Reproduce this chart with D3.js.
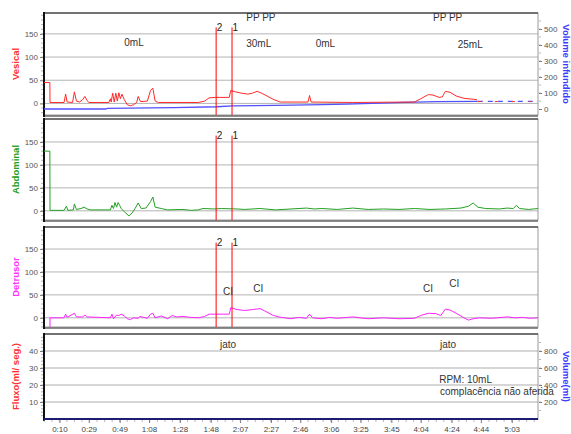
<!DOCTYPE html>
<html>
<head>
<meta charset="utf-8">
<script src="https://cdnjs.cloudflare.com/ajax/libs/d3/7.8.5/d3.min.js"></script>
<style>
body { margin: 0; background: #fff; }
text { font-family: "Liberation Sans", Arial, sans-serif; }
</style>
</head>
<body>
<div id="chart"></div>
<script>
// time axis (seconds)
var timeTicks = [10, 29, 49, 68, 88, 108, 127, 147, 166, 186, 205, 225, 244, 264, 283, 303];
var timeLabels = ["0:10", "0:29", "0:49", "1:08", "1:28", "1:48", "2:07", "2:27", "2:46", "3:06", "3:25", "3:45", "4:04", "4:24", "4:44", "5:03"];

// vesical pressure (cmH2O)
var vesT = [0, 3.8, 3.9, 13, 14, 15, 18.5, 19.7, 21, 23, 25, 26.5, 28, 29, 42, 43, 43.5, 44.5, 45.5, 46.5, 47.5, 48.5, 49.5, 50.5, 52, 54, 56, 58, 60, 61, 62.5, 67, 69, 70.5, 72, 74, 90, 100, 104, 107, 111, 120, 121, 124, 128, 132, 135, 138, 141, 145, 149, 153, 160, 171, 172, 173, 200, 240, 244, 249, 252, 256, 258, 260, 263, 267, 272, 278, 280.5];
var vesV = [45, 45, 2, 2, 20, 3, 2, 25, 5, 3, 8, 15, 6, 2, 2, 10, 3, 22, 3, 22, 5, 23, 10, 20, 8, -3, -5, -3, 2, 15, 4, 5, 28, 33, 5, 2, 2, 2, 5, 12, 13, 13, 28, 25, 22, 20, 22, 26, 22, 15, 8, 3, 3, 3, 17, 3, 2, 3, 10, 19, 18, 13, 14, 26, 24, 16, 11, 9, 8];
var vesTailT = [281, 320];
var vesTailV = [4, 4];

// volume infundido (ml)
var volT = [0, 40, 41, 84, 112, 122, 150, 181, 196, 218, 233, 255, 281];
var volV = [0, 0, 4, 8, 14, 19, 23, 27, 31, 37, 42, 46, 48];
var volTailT = [281, 320];
var volTailV = [48, 48];

// abdominal pressure
var abdT = [0, 3.8, 3.9, 13, 14.5, 15.5, 19, 19.7, 21, 24, 26, 28, 30, 43, 44, 45, 46, 47, 48, 49, 50, 52, 55, 57, 59, 61, 63, 66, 69, 70.5, 72, 76, 80, 90, 95, 100, 103, 110, 115, 125, 130, 140, 150, 160, 170, 175, 180, 190, 200, 210, 220, 230, 240, 250, 260, 270, 275, 278, 281, 286, 295, 300, 304, 306, 308, 314, 320];
var abdV = [130, 130, 1, 1, 10, 1, 2, 15, 3, 5, 8, 4, 2, 2, 12, 5, 18, 8, 18, 12, 5, -2, -11, -5, 5, 17, 5, 6, 20, 30, 8, 5, 2, 3, 1, 2, 5, 4, 5, 4, 3, 5, 2, 4, 6, 4, 5, 3, 6, 3, 4, 3, 5, 3, 4, 6, 10, 17, 8, 5, 4, 6, 5, 12, 5, 3, 5];

// detrusor pressure
var detT = [0, 3.8, 3.9, 13, 14, 15, 19.7, 21, 25, 26.5, 28, 43, 44, 45, 47, 48.5, 50, 52, 54, 56, 58, 61, 62, 67, 69, 70.5, 72, 76, 80, 83, 86, 90, 95, 100, 104, 107, 112, 120, 121, 125, 130, 135, 140, 143, 148, 152, 156, 160, 165, 170, 172, 174, 180, 185, 190, 200, 210, 220, 230, 240, 244, 249, 254, 257, 260, 263, 267, 272, 275, 278, 282, 290, 300, 305, 310, 315, 320];
var detV = [-85, -85, 0, 0, 8, 1, 10, 2, 2, 6, 2, 0, 8, -2, 6, 5, 8, 4, -2, -4, 0, -1, 3, -1, 8, 10, 0, 4, -2, 5, 2, 3, 1, 0, 3, 8, 8, 8, 22, 18, 16, 18, 20, 15, 6, 2, 0, -2, 1, -1, 8, 0, -2, 1, -1, 2, -2, 0, -2, -1, 5, 10, 9, 5, 19, 17, 10, 0, -5, -2, 0, -1, 2, 0, 1, -1, 0];

// event markers
var markerT = [111.5, 121.8];
var markerLabels = ["2", "1"];
var markerV = 164;

// annotations
var vesNoteText = ["0mL", "PP PP", "30mL", "0mL", "PP PP", "25mL"];
var vesNoteT = [52, 131, 131, 176, 252, 268];
var vesNoteV = [132, 186, 130, 130, 186, 128];
var ciT = [116, 135.5, 245.5, 262.5];
var ciV = [58, 63, 63, 74];
var fluxNoteText = ["jato", "jato", "RPM: 10mL", "complacência não aferida"];
var fluxNoteT = [114, 256.5, 256, 256.5];
var fluxNoteV = [44, 44, 23, 16];

var w = 571, h = 434;
var left = 44, right = 538;

var svg = d3.select("#chart")
    .append("svg")
    .attr("width", w)
    .attr("height", h);

var x = d3.scaleLinear().domain([0, 320]).range([left, right]);

var panels = [
    { title: "Vesical", color: "#ff3030", top: 13, bottom: 115, domain: [-25, 195], ticks: [0, 50, 100, 150], minor: 10 },
    { title: "Abdominal", color: "#22a022", top: 119, bottom: 220, domain: [-20, 200], ticks: [0, 50, 100, 150], minor: 10 },
    { title: "Detrusor", color: "#ff33ff", top: 227, bottom: 327, domain: [-20, 198], ticks: [0, 50, 100, 150], minor: 10 },
    { title: "Fluxo(ml/ seg.)", color: "#ff3030", top: 334, bottom: 419, domain: [0, 50], ticks: [10, 20, 30, 40], minor: 2 }
];

panels.forEach(function(p, i) {
    p.y = d3.scaleLinear().domain(p.domain).range([p.bottom, p.top]);
    var g = svg.append("g");

    svg.append("clipPath").attr("id", "clip" + i)
        .append("rect")
        .attr("x", left).attr("y", p.top)
        .attr("width", right - left).attr("height", p.bottom - p.top);

    // gridlines
    g.selectAll(".grid")
        .data(p.ticks).enter()
        .append("line")
        .attr("x1", left).attr("x2", right)
        .attr("y1", function(d) { return p.y(d); })
        .attr("y2", function(d) { return p.y(d); })
        .attr("stroke", i == 3 ? "#c8c8c8" : "#b4b4b4")
        .attr("stroke-width", i == 3 ? 1.5 : 1);

    // frame
    g.append("rect")
        .attr("x", left).attr("y", p.top)
        .attr("width", right - left).attr("height", p.bottom - p.top)
        .attr("fill", "none").attr("stroke", "#9a9a9a");
    g.append("line")
        .attr("x1", left).attr("x2", right)
        .attr("y1", p.top).attr("y2", p.top)
        .attr("stroke", "#555").attr("stroke-width", 1.5);
    if (i < 3) {
        g.append("line")
            .attr("x1", left).attr("x2", right)
            .attr("y1", p.bottom + 1).attr("y2", p.bottom + 1)
            .attr("stroke", "#666").attr("stroke-width", 1.5);
    }

    // left axis
    var minorTicks = d3.range(p.domain[0] < 0 ? -p.minor * Math.floor(-p.domain[0] / p.minor) : p.minor, p.domain[1], p.minor);
    var ax = g.append("g").attr("transform", "translate(" + (left - 1) + ",0)")
        .call(d3.axisLeft(p.y).tickValues(p.ticks).tickSize(3).tickPadding(2));
    ax.select(".domain").remove();
    ax.selectAll("line").attr("stroke", "#777");
    ax.selectAll("text").attr("fill", "#555").style("font-size", "8px");
    g.selectAll(".mt")
        .data(minorTicks).enter()
        .append("line")
        .attr("x1", left - 3).attr("x2", left - 1)
        .attr("y1", function(d) { return p.y(d); })
        .attr("y2", function(d) { return p.y(d); })
        .attr("stroke", "#999").attr("stroke-width", 0.7);
    g.append("line")
        .attr("x1", left).attr("x2", left)
        .attr("y1", p.top - 1).attr("y2", p.bottom + 2)
        .attr("stroke", "#111").attr("stroke-width", 2);

    g.append("text")
        .attr("transform", "translate(19," + ((p.top + p.bottom) / 2) + ") rotate(-90)")
        .attr("text-anchor", "middle")
        .attr("fill", p.color)
        .style("font-size", "9.5px")
        .style("font-weight", "bold")
        .text(p.title);
});

// right axes
function rightAxis(p, scale, ticks, minorStep, title) {
    var g = svg.append("g");
    var ax = g.append("g").attr("transform", "translate(" + (right + 1) + ",0)")
        .call(d3.axisRight(scale).tickValues(ticks).tickSize(3).tickPadding(2));
    ax.select(".domain").remove();
    ax.selectAll("line").attr("stroke", "#777");
    ax.selectAll("text").attr("fill", "#555").style("font-size", "8px");
    g.selectAll(".rm")
        .data(d3.range(minorStep, scale.domain()[1], minorStep)).enter()
        .append("line")
        .attr("x1", right + 1).attr("x2", right + 3)
        .attr("y1", function(d) { return scale(d); })
        .attr("y2", function(d) { return scale(d); })
        .attr("stroke", "#999").attr("stroke-width", 0.7);
    g.append("text")
        .attr("transform", "translate(563," + ((p.top + p.bottom) / 2) + ") rotate(90)")
        .attr("text-anchor", "middle")
        .attr("fill", "#3a3aff")
        .style("font-size", "9.5px")
        .style("font-weight", "bold")
        .text(title);
}

var yVol = d3.scaleLinear().domain([-37.5, 600]).range([panels[0].bottom, panels[0].top]);
var yVol2 = d3.scaleLinear().domain([0, 1000]).range([panels[3].bottom, panels[3].top]);
rightAxis(panels[0], yVol, [0, 100, 200, 300, 400, 500], 50, "Volume infundido");
rightAxis(panels[3], yVol2, [200, 400, 600, 800], 100, "Volume(ml)");

// traces
function trace(i, ts, vs, scale, color, width, dash) {
    var pts = ts.map(function(t, k) { return [t, vs[k]]; });
    svg.append("path")
        .datum(pts)
        .attr("clip-path", "url(#clip" + i + ")")
        .attr("fill", "none")
        .attr("stroke", color)
        .attr("stroke-width", width)
        .attr("stroke-dasharray", dash || null)
        .attr("d", d3.line()
            .x(function(d) { return x(d[0]); })
            .y(function(d) { return scale(d[1]); }));
}

trace(0, volT, volV, yVol, "#5050ff", 1.3);
trace(0, volTailT, volTailV, yVol, "#5050ff", 1.3, "5,5");
trace(0, vesT, vesV, panels[0].y, "#ff2a2a", 1);
trace(0, vesTailT, vesTailV, panels[0].y, "#ff2a2a", 1, "3,14");
trace(1, abdT, abdV, panels[1].y, "#22a022", 1);
trace(2, detT, detV, panels[2].y, "#ff22ff", 1);

// event markers in the pressure panels
panels.slice(0, 3).forEach(function(p) {
    svg.selectAll(null)
        .data(markerT).enter()
        .append("line")
        .attr("x1", function(d) { return x(d); })
        .attr("x2", function(d) { return x(d); })
        .attr("y1", p.y(markerV))
        .attr("y2", p.bottom)
        .attr("stroke", "#ff0000")
        .attr("stroke-width", 1);
    svg.selectAll(null)
        .data(markerT).enter()
        .append("text")
        .attr("x", function(d) { return x(d) + 0.5; })
        .attr("y", p.y(markerV))
        .attr("dy", "0.35em")
        .attr("fill", "#222")
        .style("font-size", "10px")
        .text(function(d, k) { return markerLabels[k]; });
});

// annotations
function notes(p, texts, ts, vs) {
    svg.selectAll(null)
        .data(texts).enter()
        .append("text")
        .attr("x", function(d, k) { return x(ts[k]); })
        .attr("y", function(d, k) { return p.y(vs[k]); })
        .attr("dy", "0.35em")
        .attr("fill", "#333")
        .style("font-size", "10px")
        .text(function(d) { return d; });
}
notes(panels[0], vesNoteText, vesNoteT, vesNoteV);
notes(panels[2], ciT.map(function() { return "CI"; }), ciT, ciV);
notes(panels[3], fluxNoteText, fluxNoteT, fluxNoteV);

// time axis
var p4 = panels[3];
var tx = svg.append("g").attr("transform", "translate(0," + (p4.bottom + 1) + ")")
    .call(d3.axisBottom(x).tickValues(timeTicks).tickSize(3).tickPadding(3)
        .tickFormat(function(d, k) { return timeLabels[k]; }));
tx.select(".domain").remove();
tx.selectAll("line").attr("stroke", "#777");
tx.selectAll("text").attr("fill", "#444").style("font-size", "8px");
svg.selectAll(".xm")
    .data(d3.range(0.2, 320, 19.53 / 4)).enter()
    .append("line")
    .attr("x1", function(d) { return x(d); })
    .attr("x2", function(d) { return x(d); })
    .attr("y1", p4.bottom + 1).attr("y2", p4.bottom + 3)
    .attr("stroke", "#999").attr("stroke-width", 0.7);
svg.append("line")
    .attr("x1", left).attr("x2", right)
    .attr("y1", p4.bottom).attr("y2", p4.bottom)
    .attr("stroke", "#1c1c70").attr("stroke-width", 2);
</script>
</body>
</html>
